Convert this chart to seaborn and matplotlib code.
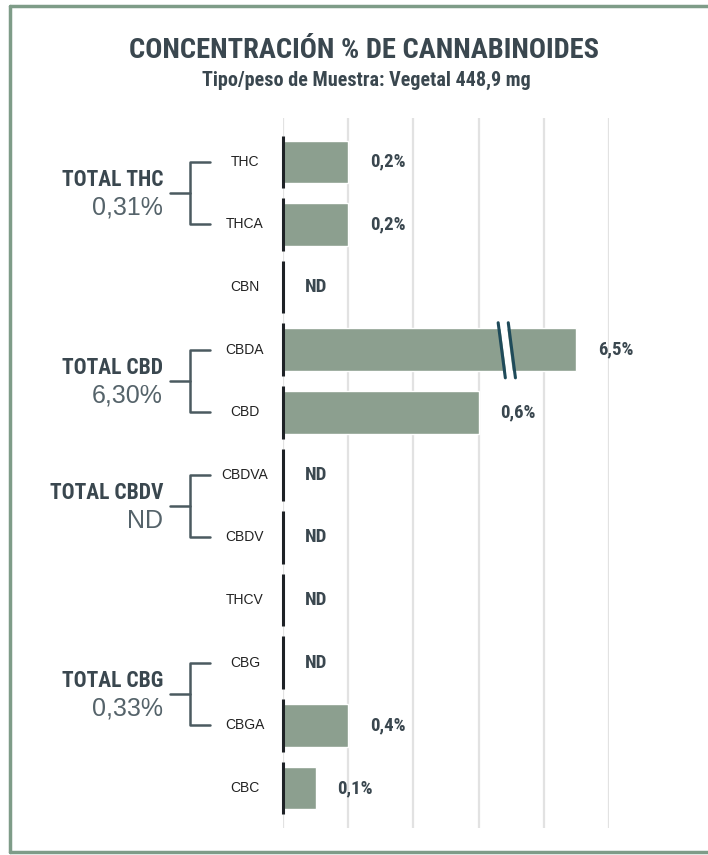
import numpy as np
import pandas as pd
import matplotlib
matplotlib.use("Agg")
import matplotlib.pyplot as plt
import seaborn as sns
from matplotlib.lines import Line2D

# --- datos ---
cannabinoides = ["THC", "THCA", "CBN", "CBDA", "CBD", "CBDVA", "CBDV", "THCV", "CBG", "CBGA", "CBC"]
etiquetas = ["0,2%", "0,2%", "ND", "6,5%", "0,6%", "ND", "ND", "ND", "ND", "0,4%", "0,1%"]
# largo dibujado de cada barra (%); CBDA va cortada
largo_barra = [0.2, 0.2, 0.0, 0.9, 0.6, 0.0, 0.0, 0.0, 0.0, 0.2, 0.1]
grupos = ["TOTAL THC", "TOTAL CBD", "TOTAL CBDV", "TOTAL CBG"]
totales = ["0,31%", "6,30%", "ND", "0,33%"]
filas_grupo = [(0, 1), (3, 4), (5, 6), (8, 9)]
fila_cortada = 3

TXT = "#3a474f"
BARRA = "#8c9f8f"
MARCO = "#7e9c88"
NARROW = ["Roboto Condensed", "Roboto", "DejaVu Sans"]

sns.set_theme(style="white")
plt.rcParams["font.family"] = ["Liberation Sans", "DejaVu Sans"]

df = pd.DataFrame({"canna": cannabinoides, "largo": largo_barra})

fig = plt.figure(figsize=(7.08, 8.55), dpi=100)
ax = fig.add_axes([283 / 708, 1 - 828 / 855, 326 / 708, 710 / 855])

sns.barplot(data=df, x="largo", y="canna", orient="h", color=BARRA,
            width=0.68, saturation=1, ax=ax, zorder=3)

ax.set_xlim(0, 1.0)
ax.set_ylim(10.64, -0.70)
ax.set_xticks(np.arange(0, 1.01, 0.2))
ax.grid(axis="x", color="#e2e2e2", lw=1.6, zorder=0)
ax.grid(axis="y", visible=False)
ax.set_xticklabels([])
ax.set_yticklabels([])
ax.tick_params(length=0)
ax.set_xlabel("")
ax.set_ylabel("")
for s in ax.spines.values():
    s.set_visible(False)

ytr = ax.get_yaxis_transform()

for i, (nombre, lab, lg) in enumerate(zip(cannabinoides, etiquetas, largo_barra)):
    # eje negro segmentado por fila
    ax.plot([0, 0], [i - 0.42, i + 0.42], color="#1e2226", lw=2.2,
            solid_capstyle="butt", zorder=4, clip_on=False)
    ax.text(-0.117, i, nombre, transform=ytr, ha="center", va="center",
            fontsize=10, color="#222222")
    ax.annotate(lab, (lg, i), xytext=(15.5, 0), textcoords="offset points",
                ha="left", va="center", fontsize=13.5, fontweight="bold",
                color=TXT, family=NARROW)

# marca de corte sobre CBDA
ax.fill([0.665, 0.687, 0.707, 0.686], [fila_cortada - 0.43, fila_cortada + 0.45,
        fila_cortada + 0.45, fila_cortada - 0.43], color="white", zorder=5, lw=0)
for x0, x1 in [(0.660, 0.682), (0.691, 0.713)]:
    ax.plot([x0, x1], [fila_cortada - 0.43, fila_cortada + 0.45], color="#1f4b5a",
            lw=2.2, zorder=6)

# llaves de agrupación
xb, xt, xs = (190 - 283) / 326, (210 - 283) / 326, (170 - 283) / 326
for g, t, (a, b) in zip(grupos, totales, filas_grupo):
    m = (a + b) / 2
    ax.plot([xt, xb, xb, xt], [a, a, b, b], transform=ytr, color="#4b5a60",
            lw=1.8, clip_on=False)
    ax.plot([xs, xb], [m, m], transform=ytr, color="#4b5a60", lw=1.8, clip_on=False)
    ax.text(-0.368, m - 0.21, g, transform=ytr, ha="right", va="center",
            fontsize=15.5, fontweight="bold", color=TXT, family=NARROW)
    ax.text(-0.368, m + 0.23, t, transform=ytr, ha="right", va="center",
            fontsize=18, color="#55636a")

fig.text(364 / 708, 1 - 51 / 855, "CONCENTRACIÓN % DE CANNABINOIDES", ha="center",
         va="center", fontsize=20.5, fontweight="bold", color=TXT, family=NARROW)
fig.text(366 / 708, 1 - 80 / 855, "Tipo/peso de Muestra: Vegetal 448,9 mg", ha="center",
         va="center", fontsize=14.5, fontweight="bold", color=TXT, family=NARROW)

# marco
fl, ft, fb = 10 / 708, 1 - 6 / 855, 1 - 852 / 855
for xs_, ys_ in [([fl, fl], [fb, ft]), ([fl, 1], [ft, ft]), ([fl, 1], [fb, fb])]:
    fig.add_artist(Line2D(xs_, ys_, color=MARCO, lw=2.5, transform=fig.transFigure))

fig.savefig("out.png", dpi=100, facecolor="white")
